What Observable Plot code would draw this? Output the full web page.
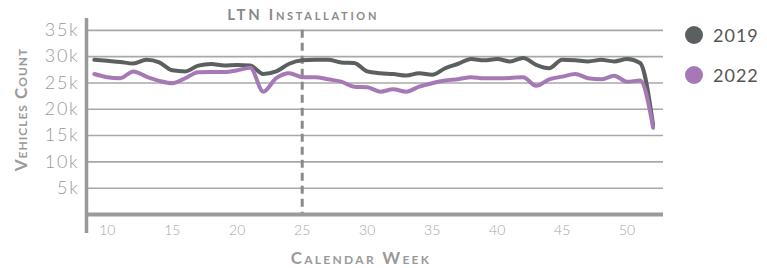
<!DOCTYPE html>
<html>
<head>
<meta charset="utf-8">
<script src="https://cdn.jsdelivr.net/npm/d3@7"></script>
<script src="https://cdn.jsdelivr.net/npm/@observablehq/plot@0.6"></script>
<style>
  html, body { margin: 0; padding: 0; background: #fff; }
  #wrap { position: relative; width: 767px; height: 268px; font-family: Lato, "Open Sans", sans-serif; }
  .legend { position: absolute; left: 685px; display: flex; align-items: center; font-size: 18px; color: #555; letter-spacing: 1px; }
  .legend span.sw { display: inline-block; width: 18px; height: 18px; border-radius: 50%; margin-right: 10px; }
</style>
</head>
<body>
<div id="wrap"></div>
<script>
const weeks = [9,10,11,12,13,14,15,16,17,18,19,20,21,22,23,24,25,26,27,28,29,30,31,32,33,34,35,36,37,38,39,40,41,42,43,44,45,46,47,48,49,50,51,52];
const v2019 = [29400,29200,29000,28700,29400,28900,27400,27200,28300,28600,28300,28400,28300,26700,27200,28650,29300,29400,29400,28900,28800,27200,26850,26700,26400,26850,26550,27800,28650,29550,29300,29550,29100,29750,28450,27800,29400,29300,29100,29400,29100,29550,28800,17000];
const v2022 = [26700,26100,25900,27200,26200,25400,24950,25900,27050,27100,27100,27400,27900,23350,25900,26850,26100,26100,25700,25250,24300,24200,23350,23800,23350,24300,24950,25450,25700,26100,25900,25900,25950,26100,24450,25700,26200,26700,25900,25700,26350,25250,25450,16500];
const years = ["2019", "2022"];
const colors = ["#5b5f60", "#a678b6"];
const yTicks = [5000,10000,15000,20000,25000,30000,35000];
const xTicks = [10,15,20,25,30,35,40,45,50];
const installWeek = 25;
const installLabel = "LTN Installation";
const xLabel = "Calendar Week";
const yLabel = "Vehicles Count";
const yFmt = d => (d / 1000) + "k";

const data = [];
weeks.forEach((w, i) => {
  data.push({week: w, value: v2019[i], year: years[0]});
  data.push({week: w, value: v2022[i], year: years[1]});
});

const xDomain = [8.4, 52.8];
const yDomain = [0, 37250];

const chart = Plot.plot({
  width: 767,
  height: 268,
  marginLeft: 86,
  marginRight: 104,
  marginTop: 18,
  marginBottom: 54,
  style: {fontFamily: "Lato, 'Open Sans', sans-serif", background: "#fff"},
  x: {domain: xDomain},
  y: {domain: yDomain},
  color: {domain: years, range: colors},
  marks: [
    Plot.ruleY(yTicks, {stroke: "#a8a8a8", strokeWidth: 1.6}),
    Plot.ruleX([installWeek], {y1: 35000, y2: 0, stroke: "#8a8a8a", strokeWidth: 3, strokeDasharray: "8,5"}),
    Plot.line(data, {x: "week", y: "value", z: "year", stroke: "year", strokeWidth: 4, curve: "monotone-x", strokeLinejoin: "round"}),
    Plot.axisY(yTicks, {tickSize: 0, tickPadding: 7, tickFormat: yFmt, fontSize: 18, fill: "#9a9a9a", fontWeight: 300, label: null}),
    Plot.axisX(xTicks, {tickSize: 0, tickPadding: 11, fontSize: 14, fill: "#a5a5a5", fontWeight: 300, label: null}),
    Plot.ruleY([0], {stroke: "#9a9a9a", strokeWidth: 4}),
    Plot.ruleX([xDomain[0]], {y1: -3600, y2: yDomain[1], stroke: "#9a9a9a", strokeWidth: 3.5}),
    Plot.text([installLabel], {x: installWeek, frameAnchor: "top", textAnchor: "middle", lineAnchor: "bottom", dx: 1, dy: 1, fontSize: 15, fontWeight: 700, fontVariant: "small-caps", fill: "#8a8a8a"}),
    Plot.text([xLabel], {frameAnchor: "bottom", textAnchor: "middle", lineAnchor: "bottom", dx: -14, dy: 49, fontSize: 17, fontWeight: 700, fontVariant: "small-caps", fill: "#9a9a9a"}),
    Plot.text([yLabel], {frameAnchor: "left", textAnchor: "middle", rotate: -90, dx: -65, dy: -7, fontSize: 17, fontWeight: 700, fontVariant: "small-caps", fill: "#9a9a9a"})
  ]
});

const spacing = new Map([[installLabel, "2.7px"], [xLabel, "2.3px"], [yLabel, "1px"]]);
yTicks.forEach(t => spacing.set(yFmt(t), "1.8px"));
d3.select(chart).selectAll("text").each(function() {
  const s = spacing.get(this.textContent.trim());
  if (s) this.setAttribute("letter-spacing", s);
});

const wrap = document.getElementById("wrap");
wrap.appendChild(chart);
years.forEach((y, i) => {
  const d = document.createElement("div");
  d.className = "legend";
  d.style.top = (24 + i * 40) + "px";
  d.innerHTML = `<span class="sw" style="background:${colors[i]}"></span><span>${y}</span>`;
  wrap.appendChild(d);
});
</script>
</body>
</html>
